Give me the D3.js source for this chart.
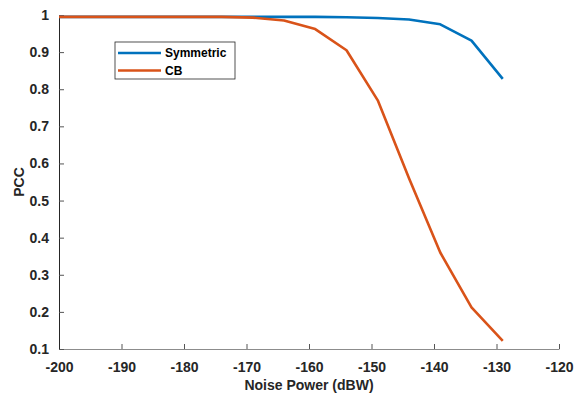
<!DOCTYPE html>
<html>
<head>
<meta charset="utf-8">
<script src="https://cdn.jsdelivr.net/npm/d3@7"></script>
<style>
  body { margin: 0; background: #fff; }
  text { font-family: "Liberation Sans", Arial, sans-serif; font-weight: bold; }
</style>
</head>
<body>
<div id="chart"></div>
<script>
// data
var noisePower = [-200, -194, -189, -184, -179, -174, -169, -164, -159, -154, -149, -144, -139, -134, -129];
var pccSymmetric = [0.995, 0.995, 0.995, 0.995, 0.995, 0.995, 0.995, 0.995, 0.995, 0.994, 0.992, 0.988, 0.975, 0.931, 0.828];
var pccCB = [0.995, 0.995, 0.995, 0.995, 0.995, 0.995, 0.993, 0.985, 0.962, 0.905, 0.77, 0.56, 0.36, 0.212, 0.122];
var seriesNames = ["Symmetric", "CB"];
var xTicks = [-200, -190, -180, -170, -160, -150, -140, -130, -120];
var yTicks = [0.1, 0.2, 0.3, 0.4, 0.5, 0.6, 0.7, 0.8, 0.9, 1];

var margin = {top: 15, right: 15, bottom: 44, left: 59},
    width = 574 - margin.left - margin.right,
    height = 393 - margin.top - margin.bottom;

var svg = d3.select("#chart")
  .append("svg")
    .attr("width", 574)
    .attr("height", 393)
  .append("g")
    .attr("transform", "translate(" + margin.left + "," + margin.top + ")");

var x = d3.scaleLinear().domain([-200, -120]).range([0, width]);
var y = d3.scaleLinear().domain([0.1, 1]).range([height, 0]);

// plain hyphen minus like the original figure
var plain = function (d) { return String(d); };

// x axis (ticks point inward)
var xAxis = svg.append("g")
  .attr("transform", "translate(0," + height + ")")
  .call(d3.axisBottom(x).tickValues(xTicks).tickFormat(plain).tickSize(-5).tickSizeOuter(0).tickPadding(13));
xAxis.select(".domain").attr("stroke", "#8c8c8c");
xAxis.selectAll(".tick line").attr("stroke", "#555");
xAxis.selectAll("text").attr("font-size", 14).attr("fill", "#262626")
  .attr("font-family", "Liberation Sans, Arial, sans-serif");

var yAxis = svg.append("g")
  .call(d3.axisLeft(y).tickValues(yTicks).tickFormat(plain).tickSize(-5).tickSizeOuter(0).tickPadding(10));
yAxis.select(".domain").attr("stroke", "#262626");
yAxis.selectAll(".tick line").attr("stroke", "#555");
yAxis.selectAll("text").attr("font-size", 14).attr("fill", "#262626")
  .attr("font-family", "Liberation Sans, Arial, sans-serif");

svg.append("text")
  .attr("text-anchor", "middle")
  .attr("x", width / 2)
  .attr("y", height + 41)
  .attr("font-size", 14)
  .attr("fill", "#262626")
  .text("Noise Power (dBW)");

svg.append("text")
  .attr("text-anchor", "middle")
  .attr("transform", "rotate(-90)")
  .attr("x", -height / 2)
  .attr("y", -35)
  .attr("font-size", 14)
  .attr("fill", "#262626")
  .text("PCC");

var color = d3.scaleOrdinal().domain(seriesNames).range(["#0072BD", "#D95319"]);
var series = [pccSymmetric, pccCB];

var line = d3.line()
  .x(function (d, i) { return x(noisePower[i]); })
  .y(function (d) { return y(d); });

svg.selectAll(".series")
  .data(series)
  .enter()
  .append("path")
    .attr("class", "series")
    .attr("fill", "none")
    .attr("stroke-width", 2.6)
    .attr("stroke-linejoin", "round")
    .attr("stroke", function (d, i) { return color(seriesNames[i]); })
    .attr("d", line);

// legend
var legend = svg.append("g").attr("transform", "translate(56,27)");
legend.append("rect")
  .attr("width", 120).attr("height", 37)
  .attr("fill", "#fff").attr("stroke", "#262626").attr("stroke-width", 0.8);
seriesNames.forEach(function (name, i) {
  legend.append("line")
    .attr("x1", 3).attr("x2", 46)
    .attr("y1", 11 + i * 17.5).attr("y2", 11 + i * 17.5)
    .attr("stroke", color(name)).attr("stroke-width", 2.6);
  legend.append("text")
    .attr("x", 50).attr("y", 11 + i * 17.5)
    .attr("dy", "0.35em")
    .attr("font-size", 12)
    .attr("fill", "#000")
    .text(name);
});
</script>
</body>
</html>
